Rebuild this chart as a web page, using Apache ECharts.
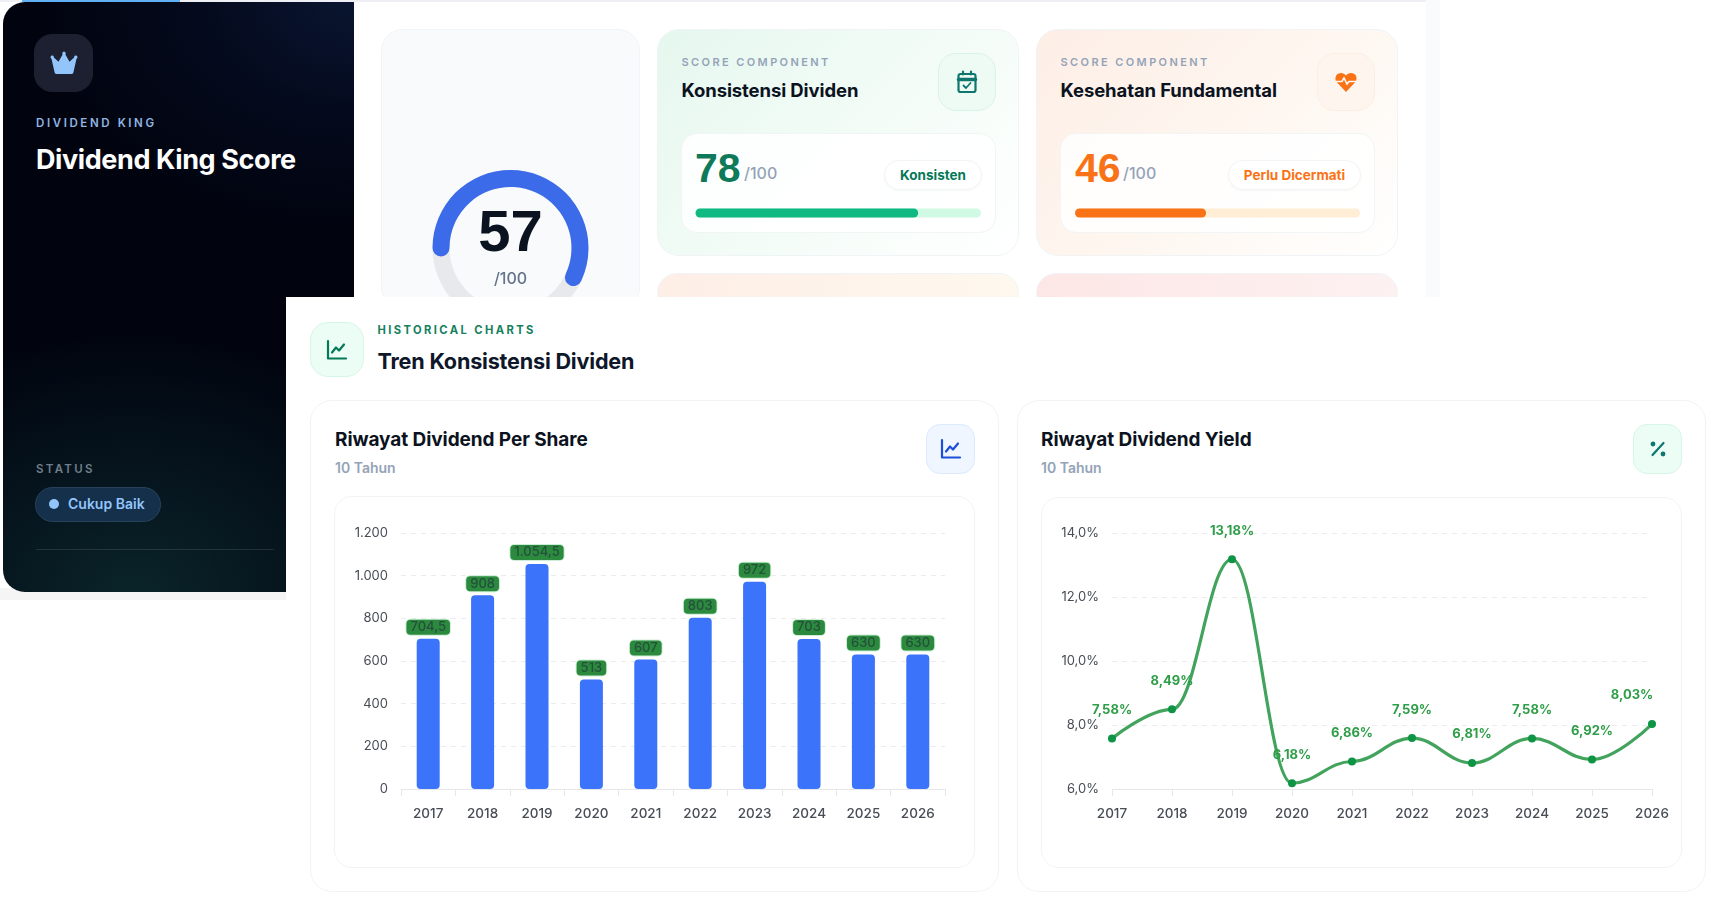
<!DOCTYPE html>
<html lang="id">
<head>
<meta charset="utf-8">
<title>Dividend King Score</title>
<script src="https://cdn.jsdelivr.net/npm/echarts@6/dist/echarts.min.js"></script>
<style>
  html, body { margin: 0; padding: 0; width: 1726px; height: 906px; overflow: hidden; background: #fff; }
  body { font-family: Inter, "Noto Sans", sans-serif; color: #0f172a; position: relative; }
  .box, .t { position: absolute; box-sizing: border-box; }
  .t { white-space: nowrap; line-height: 20px; height: 20px; }
  .eyebrow { font-size: 11px; font-weight: 600; letter-spacing: 2.4px; color: #94a3b8; }
  .cardTitle { font-size: 18.500px; font-weight: 700; letter-spacing: -0.1px; color: #0b1220; }
  .chartTitle { font-size: 19px; font-weight: 700; letter-spacing: -0.08px; color: #0b1220; }
  .bigNum { font-family: "Liberation Sans", Inter, sans-serif; font-size: 41px; font-weight: 700; }
  .over { font-size: 16px; font-weight: 500; color: #94a3b8; }
  .tile { display: flex; align-items: center; justify-content: center; border-radius: 18px; border: 1px solid; }
  .pill { display: flex; align-items: center; justify-content: center; border-radius: 15px; background: #fff;
          border: 1px solid #f1f5f4; font-size: 13.500px; font-weight: 700; box-shadow: 0 1px 3px rgba(15,23,42,.03); }
  .card { border-radius: 22px; border: 1px solid #f1f4f7; }
  .inner { background: rgba(255,255,255,.86); border: 1px solid #f1f5f5; border-radius: 16px; }
  svg { display: block; }
</style>
</head>
<body>
<!-- page chrome behind the score panels -->
<div class="box" style="left:0;top:0;width:1426px;height:2px;background:#eef0f5"></div>
<div class="box" style="left:22px;top:0;width:158px;height:2px;background:#62b0f4"></div>
<div class="box" style="left:1426px;top:0;width:14px;height:297px;background:#fafbfd"></div>
<div class="box" style="left:0;top:588px;width:286px;height:12px;background:#f5f5f6"></div>

<!-- dark summary panel -->
<div class="box" style="left:3px;top:2px;width:351px;height:590px;border-radius:22px 0 0 22px;
  background:radial-gradient(ellipse 340px 260px at 130px 590px,#0a2429 0%,rgba(8,28,36,.7) 45%,rgba(2,6,20,0) 100%),
             radial-gradient(ellipse 320px 230px at 351px 0,#091530 0%,rgba(6,12,36,.55) 55%,rgba(1,4,18,0) 100%),#01040f"></div>
<div class="box tile" style="left:34px;top:34px;width:59px;height:58px;background:#1c2030;border-color:#1c2030">
  <svg width="28" height="24" viewBox="0 0 28 24" fill="#93c5fd"><path d="M4.500 21 1.500 7.800a1.700 1.700 0 1 1 2.400-1.400l4.600 4.400L12.600 3.600a1.800 1.800 0 1 1 2.800 0l4.100 7.200 4.600-4.400a1.700 1.700 0 1 1 2.400 1.400L23.500 21a2 2 0 0 1-2 2h-15a2 2 0 0 1-2-2Z"/></svg>
</div>
<div class="t" style="left:36px;top:113px;font-size:11.500px;font-weight:600;letter-spacing:2.600px;color:#90b6e2">DIVIDEND KING</div>
<div class="t" style="left:36px;top:145px;height:30px;line-height:30px;font-size:27px;font-weight:700;letter-spacing:-0.4px;color:#fff">Dividend King Score</div>
<div class="t" style="left:36px;top:459px;font-size:11.500px;font-weight:600;letter-spacing:2.300px;color:#6f7f8c">STATUS</div>
<div class="box" style="left:35px;top:487px;width:126px;height:35px;border-radius:18px;background:#14304a;border:1px solid #27425a"></div>
<div class="box" style="left:49px;top:499px;width:10px;height:10px;border-radius:50%;background:#93c5fd"></div>
<div class="t" style="left:68px;top:494px;font-size:14px;font-weight:600;color:#93c5fd">Cukup Baik</div>
<div class="box" style="left:36px;top:549px;width:238px;height:1px;background:rgba(255,255,255,.11)"></div>

<!-- score cards -->
<div class="box card" style="left:381px;top:29px;width:259px;height:280px;background:#f9fafc"></div>

<div class="box card" style="left:657px;top:29px;width:362px;height:227px;background:linear-gradient(135deg,#e5f7ee 0%,#f0fbf5 40%,#fff 100%)"></div>
<div class="t eyebrow" style="left:681.500px;top:52px">SCORE COMPONENT</div>
<div class="t cardTitle" style="left:681.500px;top:80px">Konsistensi Dividen</div>
<div class="box tile" style="left:938px;top:53px;width:58px;height:58px;background:#eefbf4;border-color:#d8f4e5">
  <svg width="22" height="24" viewBox="0 0 22 24" fill="none" stroke="#0f766e" stroke-width="2.200" stroke-linecap="round" stroke-linejoin="round"><rect x="2.500" y="4" width="17" height="18" rx="2"/><path d="M2.500 9.500h17" stroke-width="3.400"/><path d="M7 1.500v3M15 1.500v3"/><path d="m7.500 15.500 2.500 2.500 4.500-5" stroke-width="1.800"/></svg>
</div>
<div class="box inner" style="left:681px;top:133px;width:315px;height:100px"></div>
<div class="t bigNum" style="left:695px;top:158px;color:#0f7a5a">78</div>
<div class="t over" style="left:744px;top:163px">/100</div>
<div class="box pill" style="left:884px;top:160px;width:98px;height:30px;color:#047857">Konsisten</div>

<div class="box card" style="left:1036px;top:29px;width:362px;height:227px;background:linear-gradient(135deg,#fdeee6 0%,#fef6ef 50%,#fff 100%)"></div>
<div class="t eyebrow" style="left:1060.500px;top:52px">SCORE COMPONENT</div>
<div class="t cardTitle" style="left:1060.500px;top:80px">Kesehatan Fundamental</div>
<div class="box tile" style="left:1317px;top:53px;width:58px;height:58px;background:#fef6ee;border-color:#fdeee0">
  <svg width="24" height="24" viewBox="0 0 24 24" fill="#f97316"><path d="M12 22 3 12.600C.6 10 1 5.600 4 3.800 6.800 2.200 10.300 3 12 5.600 13.700 3 17.200 2.200 20 3.800c3 1.800 3.400 6.200 1 8.800Z"/><path d="M2 11.500h6l2-3.500 3 6 2-2.500h7" fill="none" stroke="#fef6ee" stroke-width="1.600"/></svg>
</div>
<div class="box inner" style="left:1060px;top:133px;width:315px;height:100px"></div>
<div class="t bigNum" style="left:1075px;top:158px;color:#f97316">46</div>
<div class="t over" style="left:1123px;top:163px">/100</div>
<div class="box pill" style="left:1228px;top:160px;width:133px;height:30px;color:#f97316">Perlu Dicermati</div>

<div class="box card" style="left:657px;top:273px;width:362px;height:40px;background:linear-gradient(100deg,#fdeee6,#fef8ee)"></div>
<div class="box card" style="left:1036px;top:273px;width:362px;height:40px;background:linear-gradient(100deg,#fde6e6,#fdf1f1)"></div>

<!-- gauge and progress bars -->
<div class="box" id="scoreChart" style="left:0;top:0;width:1726px;height:297px"></div>

<!-- historical charts section -->
<div class="box" style="left:286px;top:297px;width:1440px;height:609px;background:#fff"></div>
<div class="box tile" style="left:310px;top:322px;width:54px;height:55px;background:#ecfdf5;border-color:#d6f7e6">
  <svg width="22" height="22" viewBox="0 0 22 22" fill="none" stroke="#047857" stroke-width="2.200" stroke-linecap="round" stroke-linejoin="round"><path d="M2 2v17.500h18"/><path d="m6 13.500 4-5 3 3 5-6"/></svg>
</div>
<div class="t" style="left:377.500px;top:320px;font-size:11.200px;font-weight:700;letter-spacing:2.400px;color:#15805e">HISTORICAL CHARTS</div>
<div class="t" style="left:377.500px;top:346px;height:30px;line-height:30px;font-size:21.600px;font-weight:700;letter-spacing:-0.2px;color:#0f172a">Tren Konsistensi Dividen</div>

<div class="box card" style="left:310px;top:400px;width:689px;height:492px;background:#fff"></div>
<div class="t chartTitle" style="left:335px;top:430px">Riwayat Dividend Per Share</div>
<div class="t" style="left:335px;top:458px;font-size:14px;font-weight:600;color:#94a3b8">10 Tahun</div>
<div class="box tile" style="left:926px;top:424px;width:49px;height:50px;border-radius:14px;background:#eff6ff;border-color:#dbeafe">
  <svg width="22" height="22" viewBox="0 0 22 22" fill="none" stroke="#1d4ed8" stroke-width="2.200" stroke-linecap="round" stroke-linejoin="round"><path d="M2 2v17.500h18"/><path d="m6 13.500 4-5 3 3 5-6"/></svg>
</div>
<div class="box card" style="left:334px;top:496px;width:641px;height:372px;border-radius:18px;background:#fff"></div>

<div class="box card" style="left:1017px;top:400px;width:689px;height:492px;background:#fff"></div>
<div class="t chartTitle" style="left:1041px;top:430px">Riwayat Dividend Yield</div>
<div class="t" style="left:1041px;top:458px;font-size:14px;font-weight:600;color:#94a3b8">10 Tahun</div>
<div class="box tile" style="left:1633px;top:424px;width:49px;height:50px;border-radius:14px;background:#ecfdf5;border-color:#d6f7e6">
  <svg width="18" height="18" viewBox="0 0 18 18" fill="none" stroke="#0f766e" stroke-width="2.200" stroke-linecap="round"><path d="M14.500 3 3.500 15"/><circle cx="4" cy="4" r="1.300" fill="#0f766e"/><circle cx="14" cy="14" r="1.300" fill="#0f766e"/></svg>
</div>
<div class="box card" style="left:1041px;top:497px;width:641px;height:371px;border-radius:18px;background:#fff"></div>

<div class="box" id="historyChart" style="left:286px;top:297px;width:1440px;height:609px"></div>

<script>
// Scores out of 100
var totalScore = [57];
var componentScores = [78, 46];

// Ten years of dividend history
var years = ['2017', '2018', '2019', '2020', '2021', '2022', '2023', '2024', '2025', '2026'];
var dividendPerShare = [704.5, 908, 1054.5, 513, 607, 803, 972, 703, 630, 630];
var dividendYield = [7.58, 8.49, 13.18, 6.18, 6.86, 7.59, 6.81, 7.58, 6.92, 8.03];

var fontFamily = 'Inter, "Noto Sans", sans-serif';
var textColor = '#474c55';
var axisColor = '#e5e7eb';
var gridColor = '#e9ebee';

function idNumber(v, digits) {
  return v.toLocaleString('id-ID', { minimumFractionDigits: digits || 0, maximumFractionDigits: digits === undefined ? 1 : digits });
}

// Ring gauge plus the two component progress bars
var scoreChart = echarts.init(document.getElementById('scoreChart'));
scoreChart.setOption({
  animation: false,
  textStyle: { fontFamily: fontFamily },
  grid: [
    { left: 695.5, top: 208.5, width: 285.5, height: 9 },
    { left: 1075, top: 208.5, width: 285, height: 9 }
  ],
  xAxis: [0, 1].map(function (i) {
    return { gridIndex: i, type: 'value', min: 0, max: 100, show: false };
  }),
  yAxis: [0, 1].map(function (i) {
    return { gridIndex: i, type: 'category', data: ['score'], show: false };
  }),
  series: [
    {
      type: 'gauge',
      center: [510.5, 248],
      radius: 78,
      startAngle: 180,
      endAngle: -180,
      min: 0,
      max: 100,
      pointer: { show: false },
      axisTick: { show: false },
      splitLine: { show: false },
      axisLabel: { show: false },
      axisLine: { roundCap: true, lineStyle: { width: 17, color: [[1, '#e8e9ed']] } },
      progress: { show: true, roundCap: true, width: 17, itemStyle: { color: '#3b6be8' } },
      title: { offsetCenter: [0, 31], fontSize: 16, fontWeight: 500, color: '#64748b', fontFamily: fontFamily },
      detail: {
        offsetCenter: [0, -13], fontSize: 58, fontWeight: 700, color: '#0b1220', fontFamily: '"Liberation Sans", Inter, sans-serif',
        valueAnimation: false, formatter: '{value}'
      },
      data: [{ value: totalScore[0], name: '/100' }]
    },
    {
      type: 'bar', xAxisIndex: 0, yAxisIndex: 0, barWidth: 9, data: [componentScores[0]],
      showBackground: true,
      backgroundStyle: { color: '#d1fae5', borderRadius: 5 },
      itemStyle: { color: '#10b981', borderRadius: 5 }
    },
    {
      type: 'bar', xAxisIndex: 1, yAxisIndex: 1, barWidth: 9, data: [componentScores[1]],
      showBackground: true,
      backgroundStyle: { color: '#ffedd5', borderRadius: 5 },
      itemStyle: { color: '#f97316', borderRadius: 5 }
    }
  ]
});

// Shared x axis styling for both history charts
function yearAxis(gridIndex, boundaryGap) {
  return {
    gridIndex: gridIndex,
    type: 'category',
    data: years,
    boundaryGap: boundaryGap,
    axisLine: { lineStyle: { color: axisColor, width: 1 } },
    axisTick: { show: true, length: 7, lineStyle: { color: axisColor } },
    axisLabel: { color: textColor, fontSize: 13.5, fontWeight: 500, margin: 18, fontFamily: fontFamily, interval: 0 }
  };
}

function valueAxis(gridIndex, min, max, interval, format) {
  return {
    gridIndex: gridIndex,
    type: 'value',
    min: min,
    max: max,
    interval: interval,
    axisLine: { show: false },
    axisTick: { show: false },
    axisLabel: { color: textColor, fontSize: 13, margin: 13, fontFamily: fontFamily, formatter: format },
    splitLine: { show: true, lineStyle: { color: gridColor, width: 1, type: [5, 5] } }
  };
}

var historyChart = echarts.init(document.getElementById('historyChart'));
historyChart.setOption({
  animation: false,
  textStyle: { fontFamily: fontFamily },
  grid: [
    { left: 115, top: 236, width: 544, height: 256 },
    { left: 826, top: 236, width: 540, height: 256 }
  ],
  xAxis: [yearAxis(0, true), yearAxis(1, false)],
  yAxis: [
    valueAxis(0, 0, 1200, 200, function (v) { return idNumber(v, 0); }),
    valueAxis(1, 6, 14, 2, function (v) { return idNumber(v, 1) + '%'; })
  ],
  series: [
    {
      type: 'bar',
      xAxisIndex: 0,
      yAxisIndex: 0,
      barWidth: 23,
      data: dividendPerShare,
      itemStyle: { color: '#3b73fb', borderRadius: 4 },
      label: {
        show: true,
        position: 'top',
        distance: 4,
        fontSize: 13,
        fontWeight: 500,
        fontFamily: fontFamily,
        color: '#25503c',
        backgroundColor: '#2b8a3e',
        borderColor: '#cdeed6',
        borderWidth: 1,
        borderRadius: 4,
        padding: [1, 4],
        formatter: function (p) { return idNumber(p.value); }
      }
    },
    {
      type: 'line',
      xAxisIndex: 1,
      yAxisIndex: 1,
      smooth: 0.4,
      smoothMonotone: 'x',
      symbol: 'circle',
      symbolSize: 8,
      lineStyle: { color: '#41a35c', width: 3.2 },
      itemStyle: { color: '#0d9444' },
      data: dividendYield.map(function (v, i) {
        // the last label stays inside the plot's right edge
        return i === dividendYield.length - 1
          ? { value: v, label: { offset: [-20, 0] } }
          : v;
      }),
      label: {
        show: true,
        position: 'top',
        distance: 18,
        fontSize: 13,
        fontWeight: 700,
        fontFamily: fontFamily,
        color: '#2f9e48',
        formatter: function (p) { return idNumber(p.value, 2) + '%'; }
      }
    }
  ]
});
</script>
</body>
</html>
